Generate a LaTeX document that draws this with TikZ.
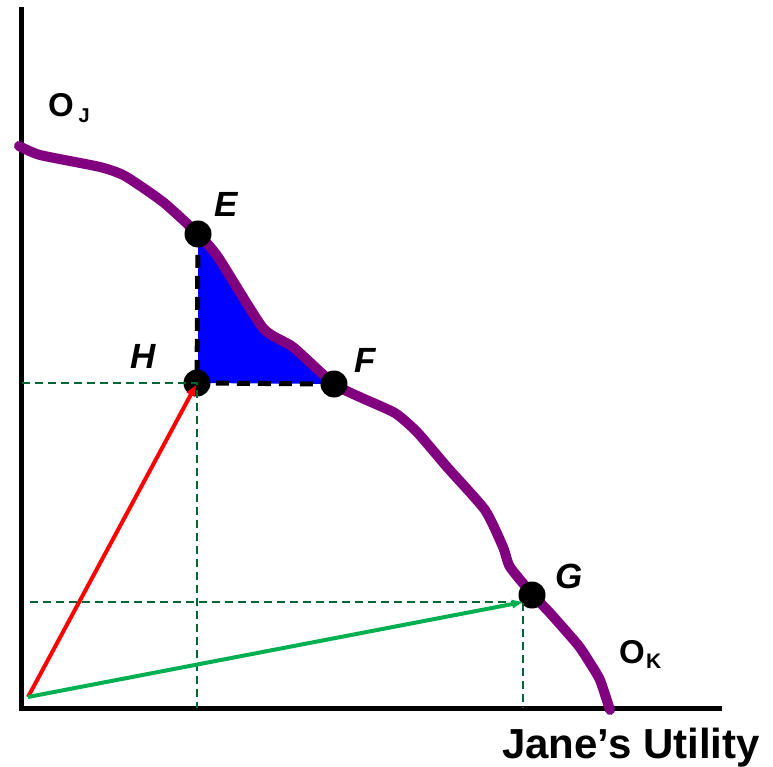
\documentclass[tikz,border=0pt]{standalone}
\usepackage{fontspec}
\setmainfont{Liberation Sans}
\usetikzlibrary{arrows.meta}
\definecolor{curvepurple}{RGB}{128,0,128}
\definecolor{guidegreen}{RGB}{0,102,51}
\definecolor{arrowgreen}{RGB}{0,176,80}
\tikzset{
  axisline/.style={line width=5pt,black},
  ppf/.style={line width=10pt,curvepurple,line cap=round,line join=round},
  blackdash/.style={line width=5pt,black,dash pattern=on 13pt off 8pt},
  guide/.style={line width=1.8pt,guidegreen,dash pattern=on 8pt off 5pt},
  dot/.style={circle,fill=black,minimum size=27pt,inner sep=0pt},
  ptlabel/.style={anchor=base west,inner sep=0pt,font=\fontsize{35}{40}\selectfont\bfseries\itshape},
  biglabel/.style={anchor=base west,inner sep=0pt,font=\fontsize{33}{38}\selectfont\bfseries},
  sublabel/.style={anchor=base west,inner sep=0pt,font=\fontsize{21}{25}\selectfont\bfseries},
  redarrow/.style={line width=4pt,red,-{Triangle[length=11pt,width=9pt]}},
  greenarrow/.style={line width=4pt,arrowgreen,-{Triangle[length=11pt,width=8pt]}},
}
\begin{document}
\begin{tikzpicture}[x=1pt,y=-1pt]
\useasboundingbox (0,0) rectangle (773,767);
% blue region
\fill[blue] (198,383) -- (334,384) -- (293,347) -- (263,328) -- (218,257) -- (198,234) -- cycle;
% axes
\coordinate (ytop) at (21.5,7);
\coordinate (corner) at (21.5,708.5);
\coordinate (xend) at (722,708.5);
\draw[axisline] (ytop) -- (corner) -- (xend);
% curve
\draw[ppf] plot[smooth,tension=0.35] coordinates {(19,146) (40,155) (100,167) (125,176) (163,202) (198,234) (218,257) (263,328) (293,347) (334,384) (362,398) (395,413) (417,432) (447,467) (485,510) (503,547) (510,567) (533,595) (550,613) (578,645) (590,663) (600,680) (610,710)};
% points
\node[dot] (E) at (198,234) {};
\node[dot] (H) at (197,383) {};
\node[dot] (F) at (334,384) {};
\node[dot] (G) at (532,595) {};
% black dashed triangle sides
\draw[blackdash] (E.center) -- (H.center) -- (F.center);
% green guides
\coordinate (hx) at (22,383);
\coordinate (hb) at (197,708);
\coordinate (gtip) at (523,602);
\coordinate (gx) at (30,602);
\coordinate (gb) at (523,708);
\draw[guide] (hx) -- (H.center) -- (hb);
\draw[guide] (gx) -- (gtip) -- (gb);
% arrows
\coordinate (O) at (28,697);
\draw[redarrow] (O) -- (196,385);
\draw[greenarrow] (O) -- (gtip);
% labels
\node[ptlabel] (lE) at (214,217) {E};
\node[ptlabel] (lH) at (130,368) {H};
\node[ptlabel] (lF) at (354,372) {F};
\node[ptlabel] (lG) at (555,588) {G};
\node[biglabel] (OJ) at (48,117) {O};
\node[sublabel,font=\fontsize{20}{24}\selectfont\bfseries] (OJs) at (78.5,122.5) {J};
\node[biglabel] (OK) at (619,663.5) {O};
\node[sublabel] (OKs) at (646,668) {K};
\node[anchor=base west,inner sep=0pt,font=\fontsize{42}{48}\selectfont\bfseries] (xl) at (502,758) {Jane’s Utility};
\end{tikzpicture}
\end{document}
